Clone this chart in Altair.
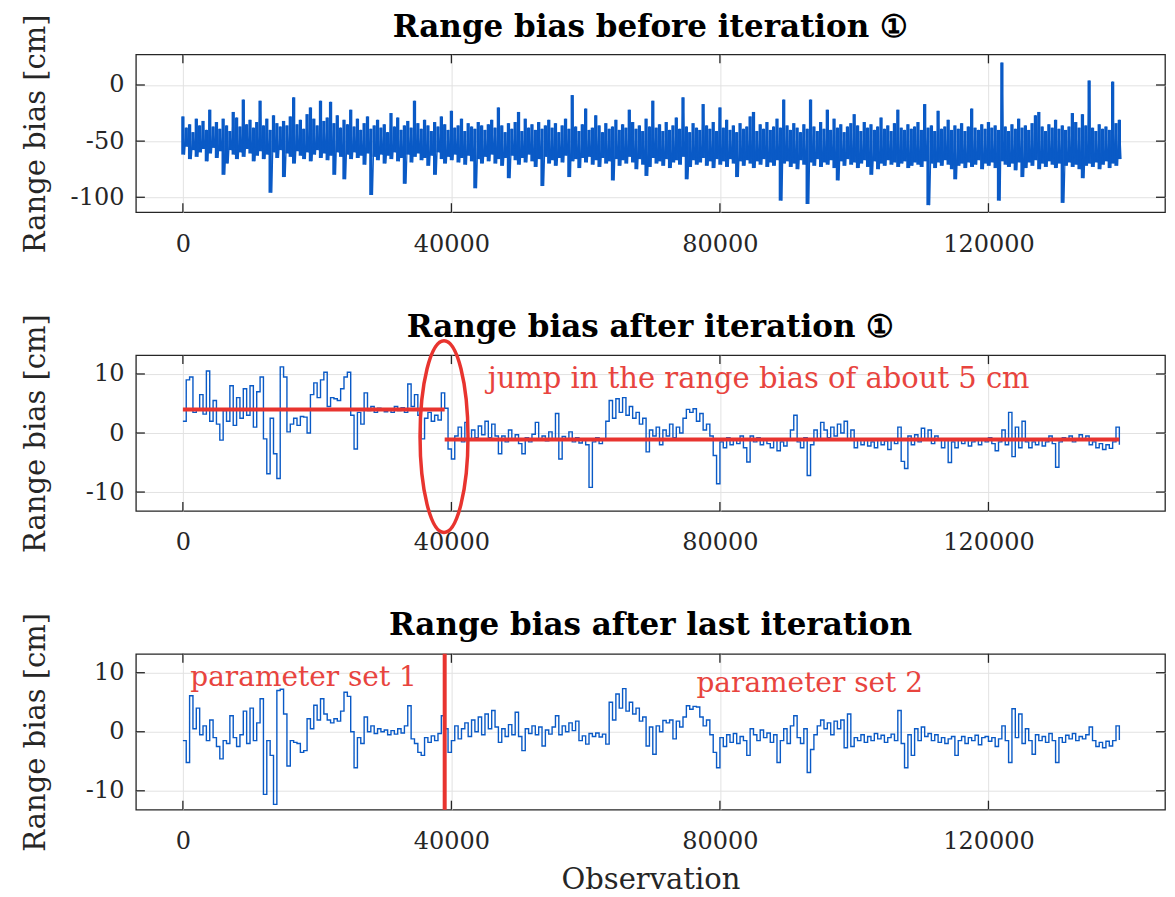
import altair as alt
import pandas as pd

STEP = 500  # observations between successive read-off samples

# ---- Panel 1: range bias before iteration (upper / lower envelope of the dense noise band)
p1_hi = [
    -28, -38, -35, -42, -30, -36, -32, -40, -22, -37,
    -33, -39, -30, -36, -41, -24, -29, -37, -13, -35,
    -31, -38, -33, -14, -36, -30, -40, -27, -34, -37,
    -32, -36, -28, -11, -35, -31, -39, -26, -20, -30,
    -36, -14, -32, -29, -15, -34, -27, -38, -31, -35,
    -22, -37, -30, -40, -34, -28, -39, -36, -31, -38,
    -35, -42, -25, -37, -29, -40, -36, -32, -38, -14,
    -34, -39, -31, -36, -41, -33, -37, -28, -35, -40,
    -23, -38, -36, -30, -41, -34, -37, -39, -33, -36,
    -40, -35, -31, -38, -20, -36, -42, -34, -39, -33,
    -24, -41, -30, -38, -35, -40, -33, -39, -36, -31,
    -38, -34, -42, -36, -30, -39, -9, -37, -41, -35,
    -21, -40, -38, -27, -36, -42, -34, -39, -37, -31,
    -40, -35, -38, -22, -33, -39, -36, -41, -30, -37,
    -14, -38, -35, -41, -33, -40, -36, -29, -39, -11,
    -37, -42, -34, -38, -40, -17, -36, -39, -33, -41,
    -20, -38, -31, -40, -36, -42, -34, -39, -37, -28,
    -24, -41, -35, -39, -33, -40, -37, -30, -38, -13,
    -36, -40, -34, -38, -42, -35, -39, -13, -37, -41,
    -33, -39, -22, -40, -30, -38, -35, -42, -37, -34,
    -26, -36, -41, -33, -38, -35, -40, -37, -29, -39,
    -36, -41, -34, -22, -38, -40, -35, -39, -37, -33,
    -40, -17, -38, -36, -41, -23, -39, -37, -31, -40,
    -36, -39, -34, -41, -37, -21, -38, -40, -35, -39,
    -33, -38, -36, -40, 20, -37, -41, -35, -39, -30,
    -38, -36, -40, -34, -27, -24, -37, -41, -35, -38,
    -31, -39, -36, -40, -37, -25, -33, -38, -26, -36,
    4, -38, -41, -35, -39, -37, -40, 3, -34, -31,
]
p1_lo = [
    -62, -55, -66, -58, -64, -60, -57, -68, -61, -56,
    -65, -59, -80, -70, -58, -62, -66, -60, -64, -57,
    -61, -68, -63, -59, -66, -62, -96, -60, -65, -58,
    -82, -61, -64, -70, -59, -63, -66, -60, -68, -62,
    -58, -65, -61, -67, -63, -80, -60, -64, -84, -62,
    -66, -60, -65, -63, -71, -61, -98, -64, -67, -62,
    -70, -63, -66, -60, -68, -65, -88, -62, -69, -64,
    -61, -67, -65, -72, -63, -80, -60, -66, -70, -64,
    -67, -62, -69, -65, -71, -63, -68, -92, -66, -70,
    -64, -68, -62, -70, -66, -72, -65, -83, -63, -67,
    -71, -65, -69, -62, -68, -73, -66, -90, -64, -70,
    -67, -72, -65, -69, -63, -82, -68, -66, -74, -65,
    -69, -64, -71, -67, -73, -65, -70, -68, -85, -66,
    -72, -67, -70, -64, -69, -75, -66, -71, -81, -73,
    -65, -70, -68, -72, -66, -74, -69, -67, -71, -64,
    -84, -73, -67, -71, -69, -65, -72, -68, -74, -66,
    -71, -68, -73, -66, -70, -82, -68, -72, -67, -70,
    -74, -68, -71, -66, -73, -69, -72, -67, -103, -70,
    -68, -73, -70, -75, -67, -71, -106, -69, -72, -66,
    -73, -69, -71, -67, -74, -85, -68, -72, -66, -71,
    -69, -74, -70, -67, -73, -80, -68, -75, -70, -72,
    -67, -71, -69, -73, -70, -68, -74, -72, -69, -71,
    -73, -68, -107, -70, -74, -69, -72, -67, -71, -75,
    -84, -72, -70, -74, -69, -73, -71, -67, -75, -70,
    -72, -69, -74, -103, -68, -71, -73, -70, -76, -69,
    -82, -74, -69, -72, -67, -75, -70, -73, -68, -71,
    -74, -70, -105, -72, -69, -73, -71, -75, -83, -72,
    -70, -73, -69, -75, -71, -68, -74, -70, -72, -66,
]

# ---- Panel 2: range bias after iteration 1
p2 = [
    2.0, 9.0, 9.5, 3.5, 4.0, 6.5, 3.2, 10.5, 2.0, 5.5,
    1.5, -1.2, 3.8, 2.0, 8.0, 1.3, 6.0, 2.5, 7.5, 3.0,
    8.0, 1.0, 7.0, 9.5, -1.0, -6.9, 2.5, -3.5, -7.7, 11.2,
    9.5, 0.2, 1.5, 2.5, 1.3, 2.8, 2.7, 0.0, 6.5, 8.5,
    6.0, 9.0, 10.3, 4.5, 6.0, 5.8, 5.5, 7.5, 9.5, 10.3,
    3.0, -2.7, 3.5, 1.5, 6.8, 3.8, 4.5, 3.5, 4.2, 4.0,
    3.6, 4.1, 3.5, 4.5, 3.8, 4.3, 3.5, 8.3, 4.5, 6.5,
    3.0, -1.0, 2.5, 3.5, 2.0, 3.0, 2.2, 6.8, 4.2, -2.7,
    -4.4, -0.5, 1.0, -1.5, 1.8, -1.2, 0.5, -0.8, 1.2, -0.3,
    2.0, -0.8, 1.5, -0.5, -3.5, -0.5, -1.5, 0.5, -1.2, -0.3,
    -1.8, -3.5, -0.8, -1.5, -0.2, 1.8, -1.0, -0.5, -1.3, 0.2,
    -1.0, 3.3, -4.4, -0.6, -1.2, 0.2, -1.5, -0.8, -1.7, -1.2,
    -2.0, -9.2, -1.5, -0.8, -1.8, -1.2, 2.0, 5.5, 2.5, 5.8,
    3.5, 6.0, 3.0, 4.5, 2.5, 3.5, 1.5, 2.5, -3.2, 0.5,
    -0.5, 1.0, -2.0, 0.5, -0.5, 1.5, -0.8, 1.0, 0.0, 2.5,
    4.0, 3.5, 4.1, 2.0, 3.3, 0.5, 1.5, -0.5, -3.8, -8.6,
    -1.5, -2.5, -0.8, -2.0, -1.0, -1.8, -0.5, -2.5, -4.9, -0.5,
    -1.5, -0.8, -2.0, -1.0, -1.8, -2.5, -1.2, -3.0, -1.5, -2.2,
    -1.0, 0.5, 3.0, -1.5, -2.5, -0.8, -7.2, -2.0, 0.5, -1.0,
    1.8, 0.5, -0.8, 1.0, -0.5, 1.5, 0.0, 2.0, -1.0, 0.5,
    -2.5, -1.2, -2.0, -1.0, -2.2, -1.5, -2.5, -1.0, -2.0, -1.3,
    -2.8, -1.0, -1.8, 1.0, -4.8, -6.0, -0.5, -2.0, -0.3, -1.5,
    0.8, -1.0, 0.5, -1.8, -0.5, -1.2, -2.5, -1.0, -5.0, -1.5,
    -2.5, -1.0, -1.8, -1.2, -2.2, -1.5, -1.0, -2.0, -1.2, -1.5,
    -0.8, -1.8, -3.0, -1.5, 0.5, -2.0, 3.5, -4.0, 1.0, -2.5,
    2.0, -1.5, -2.5, -1.5, -2.0, -1.0, -2.2, -1.5, -0.5, -1.8,
    -5.8, -1.5, -0.8, -1.2, -0.5, -1.5, -1.0, -0.3, -1.2, -0.5,
    -2.0, -1.5, -2.5, -1.8, -2.8, -2.0, -2.6, -1.5, 1.0, -2.0,
]

# ---- Panel 3: range bias after last iteration
p3 = [
    -1.5, -5.2, 6.1, 0.5, 4.0, -0.5, 1.0, -1.5, 2.0, -1.0,
    -2.5, -4.6, -1.5, -2.0, 2.7, -1.0, -2.5, -0.5, 3.5, -2.0,
    4.0, -1.5, 1.5, 5.6, -10.6, -1.5, -4.0, -12.3, 7.0, 7.2,
    3.0, -5.8, -1.5, -1.8, -2.0, -3.5, -3.2, 2.2, 0.5, 4.5,
    2.0, 5.6, 3.0, 2.0, 1.5, 2.2, 1.8, 3.5, 6.7, 6.0,
    0.0, -6.1, -1.0, -2.0, 2.5, 0.0, 1.0, -0.3, 0.5, 0.0,
    0.3, -0.5, 0.2, -0.4, 0.5, -0.2, 1.0, 4.4, -1.2, -2.0,
    -3.5, -4.0, -1.0, -1.8, -0.7, -1.5, -0.3, 2.7, 0.5, -3.5,
    -1.5, 1.0, -1.2, 0.5, 1.5, -0.8, 2.0, 0.0, 2.5, -0.5,
    3.0, 0.5, 3.6, 0.8, -1.8, 0.5, -0.8, 1.2, -0.5, 3.3,
    -0.8, -3.2, 0.5, -0.3, 1.0, -0.5, 0.8, -2.4, 0.3, -0.4,
    0.8, 2.7, -0.5, 1.0, 0.0, 1.5, 0.2, 1.8, -1.5, -0.7,
    -2.1, -0.3, -0.8, -0.2, -0.9, -0.4, -2.1, 5.0, 2.0, 6.4,
    4.0, 7.3, 3.5, 5.0, 3.0, 4.0, 1.8, 2.5, -2.4, 0.8,
    -3.8, 1.0, 0.0, 1.9, 1.5, 2.0, -1.2, 1.8, 0.8, 2.5,
    4.4, 3.8, 4.3, 4.2, 2.5, 1.0, 2.0, -0.5, -3.5, -6.1,
    -1.0, -2.5, -0.5, -1.8, -0.3, -2.0, -0.8, -1.5, -4.0, 0.5,
    -0.5, -1.5, 0.3, -1.0, -0.2, -1.8, -0.5, -5.2, -1.5, 0.5,
    -2.0, 1.0, 2.7, -1.0, -2.0, 0.5, -6.9, -3.0, -0.5, 1.0,
    2.0, 0.5, 1.5, -0.5, 1.8, 0.5, 2.0, -2.7, 3.0, -2.5,
    -1.0, -1.5, -0.5, -1.8, -0.8, -1.5, -0.3, -1.2, -0.6, -1.8,
    -1.0, -0.4, -1.5, 3.6, -2.0, -6.1, -0.5, -4.0, 0.5, -1.5,
    0.8, -0.8, -0.3, -1.5, -0.5, -1.8, -1.0, -2.0, -1.2, -0.8,
    -4.0, -1.5, -0.8, -2.0, -1.0, -1.5, -0.6, -2.2, -1.0, -0.8,
    -1.6, -1.0, -2.5, -1.2, 1.0, -1.5, -5.2, 3.9, -1.0, 3.0,
    -2.0, 0.5, -1.5, -3.8, -0.5, -1.5, -0.8, -1.8, -0.3, -1.5,
    -5.2, -1.0, -1.8, -0.6, -1.2, -0.3, -1.5, -0.8, -1.2, -0.5,
    0.8, -1.5, -2.5, -1.8, -2.7, -1.6, -2.4, -1.5, 1.0, -1.4,
]

# ---- axes / annotations
x_ticks = [0, 40000, 80000, 120000]
x_domain = [-7000, 146300]
y1_ticks = [-100, -50, 0]
y1_domain = [-113.3, 27.3]
y23_ticks = [-10, 0, 10]
y23_domain = [-13.2, 13.2]

jump_at = 39000
data_end = 139500
mean_before = 4.0
mean_after = -1.1
ellipse_center = (38900, -0.6)
jump_label = "jump in the range bias of about 5 cm"
jump_label_pos = (45400, 7.6)
set1_label = "parameter set 1"
set1_pos = (1100, 7.7)
set2_label = "parameter set 2"
set2_pos = (76500, 6.7)

titles = ["Range bias before iteration \u2460",
          "Range bias after iteration \u2460",
          "Range bias after last iteration"]

FONT = "DejaVu Serif"
BLUE = "#0A5AC6"
RED = "#E8342F"
TXT_RED = "#E8443E"
DARK = "#262626"
W = 1030
H1, H2, H3 = 158, 156, 156
TICK = 9
TITLE_OFFSET = -54

ELLIPSE = "M -0.25 0 A 0.25 1 0 1 0 0.25 0 A 0.25 1 0 1 0 -0.25 0 Z"


def xenc(show_title):
    return alt.X(
        "x:Q",
        scale=alt.Scale(domain=x_domain, nice=False, zero=False),
        axis=alt.Axis(values=x_ticks, labelExpr="'' + datum.value", grid=True,
                      ticks=False, tickSize=0, domain=False, labelPadding=39,
                      labelBaseline="alphabetic", labelFlush=False,
                      titleY=79, titleBaseline="alphabetic"),
        title="Observation" if show_title else None,
    )


def yenc(domain, ticks, h):
    return alt.Y(
        "y:Q",
        scale=alt.Scale(domain=domain, nice=False, zero=False),
        axis=alt.Axis(values=ticks, labelExpr="'' + datum.value", grid=True,
                      ticks=False, tickSize=0, domain=False, labelPadding=12,
                      titleX=-100, titleY=h / 2, titleBaseline="middle",
                      titleAlign="center", titleAngle=270),
        title="Range bias [cm]",
    )


def tick_layers(X, Y, yticks, h):
    xt = pd.DataFrame({"x": x_ticks})
    yt = pd.DataFrame({"y": yticks})
    base_style = dict(color=DARK, strokeWidth=1.3)
    return [
        alt.Chart(xt).mark_rule(**base_style).encode(x=X, y=alt.value(0), y2=alt.value(TICK)),
        alt.Chart(xt).mark_rule(**base_style).encode(x=X, y=alt.value(h - TICK), y2=alt.value(h)),
        alt.Chart(yt).mark_rule(**base_style).encode(y=Y, x=alt.value(0), x2=alt.value(TICK)),
        alt.Chart(yt).mark_rule(**base_style).encode(y=Y, x=alt.value(W - TICK), x2=alt.value(W)),
    ]


def title_params(text):
    return alt.TitleParams(text=text, font=FONT, fontSize=31, fontWeight="bold",
                           anchor="middle", frame="group", baseline="alphabetic",
                           offset=TITLE_OFFSET, color="black")


def text_layer(label, pos, X, Y, size=28):
    df = pd.DataFrame({"x": [pos[0]], "y": [pos[1]], "label": [label]})
    return alt.Chart(df).mark_text(align="left", baseline="alphabetic", font=FONT,
                                   fontSize=size, color=TXT_RED).encode(x=X, y=Y, text="label:N")


# ---- panel 1: dense band drawn as min/max columns plus the zig-zag trace
xs1, ys1 = [], []
for i, (hi, lo) in enumerate(zip(p1_hi, p1_lo)):
    xs1 += [STEP * i, STEP * i + STEP // 2]
    ys1 += [hi, lo]
df1 = pd.DataFrame({"x": xs1, "y": ys1})
env1 = pd.DataFrame({"x": [STEP * i for i in range(len(p1_hi))], "y": p1_hi, "y2": p1_lo})
X1 = xenc(False)
Y1 = yenc(y1_domain, y1_ticks, H1)
panel1 = alt.layer(
    alt.Chart(env1).mark_rule(color=BLUE, strokeWidth=3.3).encode(x=X1, y=Y1, y2="y2:Q"),
    alt.Chart(df1).mark_line(color=BLUE, strokeWidth=1.2).encode(x=X1, y=Y1),
    *tick_layers(X1, Y1, y1_ticks, H1),
).properties(width=W, height=H1, title=title_params(titles[0]))

# ---- panel 2
df2 = pd.DataFrame({"x": [STEP * i for i in range(len(p2))], "y": p2})
X2 = xenc(False)
Y2 = yenc(y23_domain, y23_ticks, H2)
means = pd.DataFrame({"x": [0, jump_at], "x2": [jump_at, data_end],
                      "y": [mean_before, mean_after]})
ell = pd.DataFrame({"x": [ellipse_center[0]], "y": [ellipse_center[1]]})
panel2 = alt.layer(
    alt.Chart(df2).mark_line(color=BLUE, strokeWidth=1.4, interpolate="step-after").encode(x=X2, y=Y2),
    alt.Chart(means).mark_rule(color=RED, strokeWidth=4).encode(x=X2, x2="x2:Q", y=Y2),
    alt.Chart(ell).mark_point(shape=ELLIPSE, size=36864, filled=False, color=RED,
                              strokeWidth=3.5, opacity=1).encode(x=X2, y=Y2),
    text_layer(jump_label, jump_label_pos, X2, Y2, size=29),
    *tick_layers(X2, Y2, y23_ticks, H2),
).properties(width=W, height=H2, title=title_params(titles[1]))

# ---- panel 3
df3 = pd.DataFrame({"x": [STEP * i for i in range(len(p3))], "y": p3})
X3 = xenc(True)
Y3 = yenc(y23_domain, y23_ticks, H3)
vline = pd.DataFrame({"x": [jump_at]})
panel3 = alt.layer(
    alt.Chart(df3).mark_line(color=BLUE, strokeWidth=1.4, interpolate="step-after").encode(x=X3, y=Y3),
    alt.Chart(vline).mark_rule(color=RED, strokeWidth=4).encode(x=X3),
    text_layer(set1_label, set1_pos, X3, Y3),
    text_layer(set2_label, set2_pos, X3, Y3),
    *tick_layers(X3, Y3, y23_ticks, H3),
).properties(width=W, height=H3, title=title_params(titles[2]))

chart = alt.vconcat(panel1, panel2, panel3, spacing=143, bounds="flush").properties(
    padding={"left": 13, "top": 2, "right": 0, "bottom": 0},
    background="white",
).configure_view(
    stroke=DARK, strokeWidth=1.3,
).configure_axis(
    labelFont=FONT, labelFontSize=24, labelColor=DARK,
    titleFont=FONT, titleFontSize=29, titleFontWeight="normal", titleColor=DARK,
    gridColor="#E2E2E2", gridWidth=1, gridOpacity=1,
)

chart.save("out.html", embed_options={"renderer": "svg", "actions": False})
